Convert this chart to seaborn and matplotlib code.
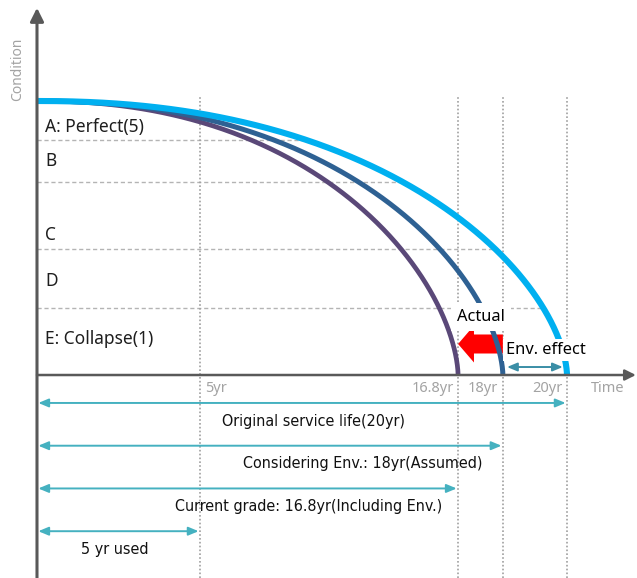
import numpy as np
import pandas as pd
import matplotlib
matplotlib.use("Agg")
import matplotlib.pyplot as plt
import seaborn as sns
from matplotlib.patches import FancyArrow

# Grades and condition levels (5 = perfect at start, 0 = on the time axis)
grade_labels = ["A: Perfect(5)", "B", "C", "D", "E: Collapse(1)"]
grade_bounds = [4.29, 3.53, 2.30, 1.22]
start_condition = 5.0

# Time marks (the schematic axis is not drawn to scale)
mark_years = [5, 16.8, 18, 20]
mark_labels = ["5yr", "16.8yr", "18yr", "20yr"]
mark_pos = [6.15, 15.89, 17.58, 20.0]

# Deterioration curves: service life of each
curve_life = [16.8, 18, 20]
curve_colors = ["#5A4878", "#2E6193", "#00B0F0"]

# Spans drawn under the time axis
span_labels = ["Original service life(20yr)", "Considering Env.: 18yr(Assumed)",
               "Current grade: 16.8yr(Including Env.)", "5 yr used"]
span_years = [20, 18, 16.8, 5]

pos = dict(zip(mark_years, mark_pos))

# curve shape (same for all three, scaled to the service life)
def condition(r):
    return start_condition * (1 - r ** 2.2) ** 0.6

def life_fraction(level):
    return (1 - (level / start_condition) ** (1 / 0.6)) ** (1 / 2.2)

sns.set_theme(style="white")
plt.rcParams["font.family"] = ["Noto Sans", "DejaVu Sans"]

fig = plt.figure(figsize=(6.37, 5.78), dpi=100)
ax = fig.add_axes([0, 0, 1, 1])
ax.set_xlim(-1.396, 22.642)
ax.set_ylim(-3.704, 6.843)
ax.axis("off")

axis_c = "#595959"
teal = "#45B1C0"
tick_c = "#A3A3A3"
bottom = -3.704

# grade boundaries, dashed up to the original curve
for b in grade_bounds:
    ax.plot([0, life_fraction(b) * pos[20]], [b, b], color="#B4B4B4", lw=1.0,
            ls=(0, (3, 2)), zorder=1)

# vertical dotted marks
for p in mark_pos:
    ax.plot([p, p], [bottom, 5.07], color="#A0A0A0", lw=1.2, ls=(0, (1, 1.3)), zorder=1)

# red "actual" arrow (beneath the curves)
ax.add_patch(FancyArrow(pos[18], 0.566, pos[16.8] - pos[18], 0, width=0.347,
                        head_width=0.675, head_length=0.6, length_includes_head=True,
                        color="#FF0000", lw=0, zorder=2))

# curves
widths = [3.4, 3.6, 4.4]
t = 1 - (1 - np.linspace(0, 1, 500)) ** 2
for life, c, w in zip(curve_life, curve_colors, widths):
    df = pd.DataFrame({"x": t * pos[life], "y": condition(t)})
    sns.lineplot(data=df, x="x", y="y", ax=ax, color=c, lw=w, sort=False,
                 estimator=None, solid_capstyle="butt", zorder=3)

# axes with arrow heads
ax.annotate("", xy=(0, 6.70), xytext=(0, bottom),
            arrowprops=dict(arrowstyle="-|>", color=axis_c, lw=2.2, mutation_scale=20,
                            shrinkA=0, shrinkB=0), zorder=4)
ax.annotate("", xy=(22.6, 0), xytext=(0, 0),
            arrowprops=dict(arrowstyle="-|>", color=axis_c, lw=1.8, mutation_scale=16,
                            shrinkA=0, shrinkB=0), zorder=4)

ax.text(-0.72, 5.58, "Condition", rotation=90, color=tick_c, fontsize=10,
        ha="center", va="center")

# grade labels
grade_y = [4.526, 3.905, 2.555, 1.715, 0.657]
for lab, y in zip(grade_labels, grade_y):
    ax.text(0.30, y, lab, fontsize=12.5, color="#1E1E1E", ha="left", va="center")

# time tick labels
for i, (lab, p) in enumerate(zip(mark_labels, mark_pos)):
    if i == 0:
        ax.text(p + 0.19, -0.237, lab, color=tick_c, fontsize=10.5, ha="left", va="center")
    else:
        ax.text(p - 0.17, -0.237, lab, color=tick_c, fontsize=10.5, ha="right", va="center")
ax.text(21.55, -0.237, "Time", color=tick_c, fontsize=10.5, ha="center", va="center")

# annotations
ax.text(16.75, 1.058, "Actual", fontsize=11.8, color="black", ha="center", va="center",
        bbox=dict(boxstyle="square,pad=0.35", fc="white", ec="none"), zorder=5)
ax.text(19.2, 0.456, "Env. effect", fontsize=11.8, color="black", ha="center", va="center",
        bbox=dict(boxstyle="square,pad=0.2", fc="white", ec="none"), zorder=5)
ax.annotate("", xy=(pos[20], 0.146), xytext=(pos[18], 0.146),
            arrowprops=dict(arrowstyle="<|-|>,head_length=0.6,head_width=0.25",
                            color="#3A8EA6", lw=1.4, mutation_scale=10,
                            shrinkA=3, shrinkB=3), zorder=6)

# service life spans
span_text_x = [10.42, 12.30, 10.26, 2.94]
for i, (lab, yr, tx) in enumerate(zip(span_labels, span_years, span_text_x)):
    row = -0.51 - 0.78 * i
    ax.annotate("", xy=(pos[yr], row), xytext=(0.05, row),
                arrowprops=dict(arrowstyle="<|-|>,head_length=0.6,head_width=0.25",
                                color=teal, lw=1.4, mutation_scale=10,
                                shrinkA=0, shrinkB=1), zorder=4)
    ax.text(tx, row - 0.33, lab, fontsize=11.5, color="#111111", ha="center", va="center",
            family="DejaVu Sans", fontstretch="condensed")

fig.savefig("out.png", dpi=100)
